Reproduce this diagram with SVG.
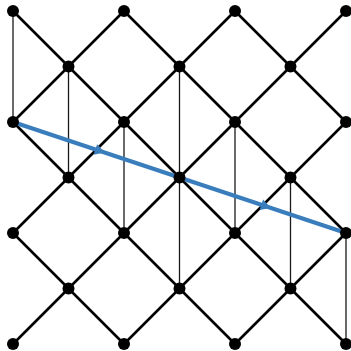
<svg xmlns="http://www.w3.org/2000/svg" width="351" height="351" viewBox="0 0 351 351">
<style>
.d{stroke:#000;stroke-width:2.6;stroke-linecap:round}
.v{stroke:#1a1a1a;stroke-width:1.3}
.b{stroke:#3a7dbd;stroke-width:4;fill:none}
.ah{fill:#3a7dbd}
.n{fill:#000}
</style>
<rect width="351" height="351" fill="#fff"/>
<g id="connectors">
<!-- rows 0-1 -->
<line class="d" x1="13" y1="11" x2="68.5" y2="66.5"/>
<line class="d" x1="124" y1="11" x2="68.5" y2="66.5"/>
<line class="d" x1="124" y1="11" x2="179.5" y2="66.5"/>
<line class="d" x1="235" y1="11" x2="179.5" y2="66.5"/>
<line class="d" x1="235" y1="11" x2="290.5" y2="66.5"/>
<line class="d" x1="346" y1="11" x2="290.5" y2="66.5"/>
<!-- rows 1-2 -->
<line class="d" x1="68.5" y1="66.5" x2="13" y2="122"/>
<line class="d" x1="68.5" y1="66.5" x2="124" y2="122"/>
<line class="d" x1="179.5" y1="66.5" x2="124" y2="122"/>
<line class="d" x1="179.5" y1="66.5" x2="235" y2="122"/>
<line class="d" x1="290.5" y1="66.5" x2="235" y2="122"/>
<line class="d" x1="290.5" y1="66.5" x2="346" y2="122"/>
<!-- rows 2-3 -->
<line class="d" x1="13" y1="122" x2="68.5" y2="177.5"/>
<line class="d" x1="124" y1="122" x2="68.5" y2="177.5"/>
<line class="d" x1="124" y1="122" x2="179.5" y2="177.5"/>
<line class="d" x1="235" y1="122" x2="179.5" y2="177.5"/>
<line class="d" x1="235" y1="122" x2="290.5" y2="177.5"/>
<line class="d" x1="346" y1="122" x2="290.5" y2="177.5"/>
<!-- rows 3-4 -->
<line class="d" x1="68.5" y1="177.5" x2="13" y2="233"/>
<line class="d" x1="68.5" y1="177.5" x2="124" y2="233"/>
<line class="d" x1="179.5" y1="177.5" x2="124" y2="233"/>
<line class="d" x1="179.5" y1="177.5" x2="235" y2="233"/>
<line class="d" x1="290.5" y1="177.5" x2="235" y2="233"/>
<line class="d" x1="290.5" y1="177.5" x2="346" y2="233"/>
<!-- rows 4-5 -->
<line class="d" x1="13" y1="233" x2="68.5" y2="288.5"/>
<line class="d" x1="124" y1="233" x2="68.5" y2="288.5"/>
<line class="d" x1="124" y1="233" x2="179.5" y2="288.5"/>
<line class="d" x1="235" y1="233" x2="179.5" y2="288.5"/>
<line class="d" x1="235" y1="233" x2="290.5" y2="288.5"/>
<line class="d" x1="346" y1="233" x2="290.5" y2="288.5"/>
<!-- rows 5-6 -->
<line class="d" x1="68.5" y1="288.5" x2="13" y2="344"/>
<line class="d" x1="68.5" y1="288.5" x2="124" y2="344"/>
<line class="d" x1="179.5" y1="288.5" x2="124" y2="344"/>
<line class="d" x1="179.5" y1="288.5" x2="235" y2="344"/>
<line class="d" x1="290.5" y1="288.5" x2="235" y2="344"/>
<line class="d" x1="290.5" y1="288.5" x2="346" y2="344"/>
<!-- verticals -->
<line class="v" x1="13" y1="11" x2="13" y2="122"/>
<line class="v" x1="68.5" y1="66.5" x2="68.5" y2="177.5"/>
<line class="v" x1="124" y1="122" x2="124" y2="233"/>
<line class="v" x1="179.5" y1="66.5" x2="179.5" y2="177.5"/>
<line class="v" x1="179.5" y1="177.5" x2="179.5" y2="288.5"/>
<line class="v" x1="235" y1="122" x2="235" y2="233"/>
<line class="v" x1="290.5" y1="177.5" x2="290.5" y2="288.5"/>
<line class="v" x1="346" y1="233" x2="346" y2="344"/>
<!-- blue path -->
<line class="b" x1="13" y1="122" x2="346" y2="233"/>
<polygon class="ah" points="104.85,152.62 93.62,154.68 97.1,144.24"/>
<polygon class="ah" points="270.85,207.95 259.62,210.01 263.1,199.57"/>
</g>
<g id="n0_0"><circle class="n" cx="13" cy="11" r="6"/></g>
<g id="n2_0"><circle class="n" cx="124" cy="11" r="6"/></g>
<g id="n4_0"><circle class="n" cx="235" cy="11" r="6"/></g>
<g id="n6_0"><circle class="n" cx="346" cy="11" r="6"/></g>
<g id="n1_1"><circle class="n" cx="68.5" cy="66.5" r="6"/></g>
<g id="n3_1"><circle class="n" cx="179.5" cy="66.5" r="6"/></g>
<g id="n5_1"><circle class="n" cx="290.5" cy="66.5" r="6"/></g>
<g id="n0_2"><circle class="n" cx="13" cy="122" r="6"/></g>
<g id="n2_2"><circle class="n" cx="124" cy="122" r="6"/></g>
<g id="n4_2"><circle class="n" cx="235" cy="122" r="6"/></g>
<g id="n6_2"><circle class="n" cx="346" cy="122" r="6"/></g>
<g id="n1_3"><circle class="n" cx="68.5" cy="177.5" r="6"/></g>
<g id="n3_3"><circle class="n" cx="179.5" cy="177.5" r="6"/></g>
<g id="n5_3"><circle class="n" cx="290.5" cy="177.5" r="6"/></g>
<g id="n0_4"><circle class="n" cx="13" cy="233" r="6"/></g>
<g id="n2_4"><circle class="n" cx="124" cy="233" r="6"/></g>
<g id="n4_4"><circle class="n" cx="235" cy="233" r="6"/></g>
<g id="n6_4"><circle class="n" cx="346" cy="233" r="6"/></g>
<g id="n1_5"><circle class="n" cx="68.5" cy="288.5" r="6"/></g>
<g id="n3_5"><circle class="n" cx="179.5" cy="288.5" r="6"/></g>
<g id="n5_5"><circle class="n" cx="290.5" cy="288.5" r="6"/></g>
<g id="n0_6"><circle class="n" cx="13" cy="344" r="6"/></g>
<g id="n2_6"><circle class="n" cx="124" cy="344" r="6"/></g>
<g id="n4_6"><circle class="n" cx="235" cy="344" r="6"/></g>
<g id="n6_6"><circle class="n" cx="346" cy="344" r="6"/></g>
</svg>
